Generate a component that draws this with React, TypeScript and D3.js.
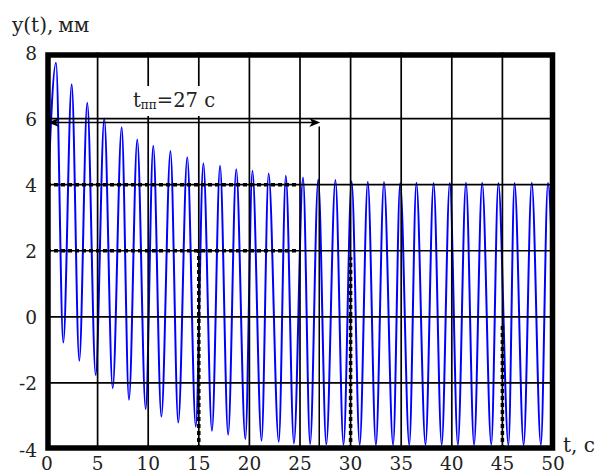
import React from "react";
import * as d3 from "d3";

// ---- data ----
const xTicks = [0, 5, 10, 15, 20, 25, 30, 35, 40, 45, 50];
const yTicks = [-4, -2, 0, 2, 4, 6, 8];

const startPoint = { t: 0, v: 3.0 };
const endPoint = { t: 50, v: 1.0 };

const peakT = [0.89, 2.44, 3.98, 5.66, 7.38, 8.92, 10.5, 12.2, 13.86, 15.45, 17.1, 18.7, 20.3, 21.9, 23.6, 25.3, 26.8, 28.5, 30.1, 31.7, 33.3, 34.9, 36.5, 38.2, 39.8, 41.4, 43.0, 44.6, 46.2, 47.9, 49.5];
const peakV = [7.69, 7.04, 6.48, 6.0, 5.74, 5.37, 5.18, 5.02, 4.83, 4.65, 4.57, 4.47, 4.42, 4.34, 4.27, 4.22, 4.16, 4.14, 4.1, 4.09, 4.08, 4.05, 4.06, 4.05, 4.05, 4.06, 4.06, 4.05, 4.05, 4.06, 4.05];

const troughT = [1.61, 3.19, 4.81, 6.49, 8.1, 9.75, 11.3, 12.97, 14.7, 16.3, 17.9, 19.6, 21.2, 22.9, 24.4, 26.0, 27.6, 29.3, 30.9, 32.5, 34.2, 35.8, 37.4, 39.0, 40.6, 42.2, 43.9, 45.6, 47.1, 48.8];
const troughV = [-0.78, -1.33, -1.76, -2.16, -2.51, -2.79, -3.02, -3.2, -3.32, -3.45, -3.57, -3.7, -3.75, -3.78, -3.83, -3.85, -3.86, -3.87, -3.87, -3.88, -3.88, -3.88, -3.87, -3.88, -3.88, -3.88, -3.87, -3.88, -3.88, -3.88];

// dotted auxiliary lines (value coordinates)
const hDashed = [
  { v: 4, t0: 0, t1: 24.7 },
  { v: 2, t0: 0, t1: 24.7 },
];
const vDashed = [
  { t: 15, v0: -4, v1: 2 },
  { t: 30, v0: -4, v1: 1.8 },
  { t: 45, v0: -4, v1: -0.2 },
];

const settleTime = 27;
const arrowLevel = 5.88;

export default function App() {
  const W = 596, H = 475;
  const x = d3.scaleLinear().domain([0, 50]).range([47, 553]);
  const y = d3.scaleLinear().domain([-4, 8]).range([449, 52.5]);

  const pts: { t: number; v: number }[] = [startPoint];
  peakT.forEach((t, i) => pts.push({ t, v: peakV[i] }));
  troughT.forEach((t, i) => pts.push({ t, v: troughV[i] }));
  pts.push(endPoint);
  pts.sort((a, b) => a.t - b.t);

  const line = d3
    .line<{ t: number; v: number }>()
    .x((d) => x(d.t))
    .y((d) => y(d.v))
    .curve(d3.curveMonotoneX);

  const font = "DejaVu Serif, Liberation Serif, serif";
  const txt = "#222";

  const ay = y(arrowLevel);
  const ax0 = x(0) + 1;
  const ax1 = x(settleTime);

  return (
    <svg
      width={W}
      height={H}
      fontFamily={font}
      style={{ position: "fixed", left: 0, top: 0, background: "#fff" }}
    >
      <rect x={0} y={0} width={W} height={H} fill="#fff" />
      <defs>
        <clipPath id="plot">
          <rect x={x(0)} y={y(8)} width={x(50) - x(0)} height={y(-4) - y(8)} />
        </clipPath>
      </defs>

      {/* curve */}
      <path
        d={line(pts) || ""}
        fill="none"
        stroke="#0000ff"
        strokeWidth={2}
        clipPath="url(#plot)"
      />

      {/* grid */}
      {xTicks.slice(1, -1).map((t) => (
        <line key={"gx" + t} x1={x(t)} x2={x(t)} y1={y(8)} y2={y(-4)} stroke="#000" strokeWidth={1.7} />
      ))}
      {yTicks.slice(1, -1).map((v) => (
        <line key={"gy" + v} x1={x(0)} x2={x(50)} y1={y(v)} y2={y(v)} stroke="#000" strokeWidth={1.7} />
      ))}

      {/* dotted auxiliary lines */}
      {hDashed.map((d, i) => (
        <line key={"hd" + i} x1={x(d.t0)} x2={x(d.t1)} y1={y(d.v)} y2={y(d.v)} stroke="#000" strokeWidth={3.5} strokeDasharray="4 3" />
      ))}
      {vDashed.map((d, i) => (
        <line key={"vd" + i} x1={x(d.t)} x2={x(d.t)} y1={y(d.v0)} y2={y(d.v1)} stroke="#000" strokeWidth={3.5} strokeDasharray="4 3" />
      ))}

      {/* annotation */}
      <rect x={127} y={86} width={92} height={30} fill="#fff" />
      <line x1={ax0 + 6} x2={ax1 - 6} y1={ay} y2={ay} stroke="#000" strokeWidth={1.6} />
      <line x1={ax1 - 1} x2={ax1 - 1} y1={ay + 4} y2={y(-4)} stroke="#000" strokeWidth={1.5} />
      <path d={`M${ax0},${ay} L${ax0 + 11},${ay - 4.5} L${ax0 + 8},${ay} L${ax0 + 11},${ay + 4.5} Z`} fill="#000" />
      <path d={`M${ax1},${ay} L${ax1 - 11},${ay - 4.5} L${ax1 - 8},${ay} L${ax1 - 11},${ay + 4.5} Z`} fill="#000" />
      <text x={133} y={107} fontSize={19.5} fill={txt}>
        t<tspan fontSize={12} dy={2}>пп</tspan>
        <tspan dy={-2}>=27 c</tspan>
      </text>

      {/* frame */}
      <rect x={48} y={55} width={504.5} height={393} fill="none" stroke="#000" strokeWidth={5.5} />

      {/* tick labels */}
      {yTicks.map((v) => (
        <text key={"ty" + v} x={37} y={y(v) + 7.5} textAnchor="end" fontSize={18.5} fill={txt}>
          {v}
        </text>
      ))}
      {xTicks.map((t) => (
        <text key={"tx" + t} x={x(t)} y={470} textAnchor="middle" fontSize={18.5} fill={txt}>
          {t}
        </text>
      ))}

      {/* axis titles */}
      <text x={12} y={32} fontSize={20} fill={txt}>
        y(t),<tspan dx={5}>мм</tspan>
      </text>
      <text x={563} y={452} fontSize={20} fill={txt}>
        t, c
      </text>
    </svg>
  );
}
